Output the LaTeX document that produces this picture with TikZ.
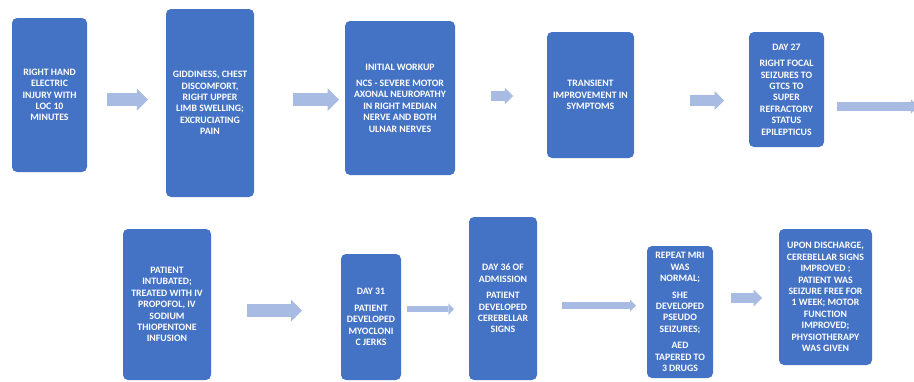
\documentclass[tikz,border=0pt]{standalone}
\usepackage{fontspec}
\setmainfont{Carlito}
\usepackage{tikz}
\usetikzlibrary{arrows.meta,positioning}
\definecolor{boxblue}{RGB}{68,114,196}
\definecolor{flowblue}{RGB}{168,187,226}

\begin{document}
\begin{tikzpicture}[x=1pt,y=-1pt,every node/.style={outer sep=0pt,inner sep=2pt,text=white}]
\tikzstyle{event}=[fill=boxblue,rounded corners=5pt,align=center,font=\bfseries\fontsize{9.8}{11.4}\selectfont]
\tikzstyle{flow}=[draw=flowblue,-{Triangle[length=0pt .85,width=0pt 1.7,line width=0pt]}]

\useasboundingbox (0,0) rectangle (914,381);

% first row
\node (S1) at (49.5,95) [event,minimum width=75pt,minimum height=154pt]
   {RIGHT HAND\\ELECTRIC\\INJURY WITH\\LOC 10\\MINUTES};
\node (S2) at (210,103) [event,minimum width=88pt,minimum height=188pt]
   {GIDDINESS, CHEST\\DISCOMFORT,\\RIGHT UPPER\\LIMB SWELLING;\\EXCRUCIATING\\PAIN};
\node (S3) at (400,98) [event,minimum width=110pt,minimum height=154pt]
   {INITIAL WORKUP\\[5pt]NCS - SEVERE MOTOR\\AXONAL NEUROPATHY\\IN RIGHT MEDIAN\\NERVE AND BOTH\\ULNAR NERVES};
\node (S4) at (590.5,95) [event,minimum width=87pt,minimum height=126pt]
   {TRANSIENT\\IMPROVEMENT IN\\SYMPTOMS};
\node (S5) at (786.5,89.5) [event,minimum width=75pt,minimum height=115pt]
   {DAY 27\\[5pt]RIGHT FOCAL\\SEIZURES TO\\GTCS TO\\SUPER\\REFRACTORY\\STATUS\\EPILEPTICUS};
\coordinate (E) at (918,106.5);

% second row
\node (S6) at (167,304.5) [event,minimum width=88pt,minimum height=151pt]
   {PATIENT\\INTUBATED;\\TREATED WITH IV\\PROPOFOL, IV\\SODIUM\\THIOPENTONE\\INFUSION};
\node (S7) at (371,317) [event,minimum width=60pt,minimum height=126pt]
   {DAY 31\\[5pt]PATIENT\\DEVELOPED\\MYOCLONI\\C JERKS};
\node (S8) at (503,298.5) [event,minimum width=68pt,minimum height=163pt]
   {DAY 36 OF\\ADMISSION\\[5pt]PATIENT\\DEVELOPED\\CEREBELLAR\\SIGNS};
\node (S9) at (680,312) [event,minimum width=66pt,minimum height=132pt]
   {REPEAT MRI\\WAS\\NORMAL;\\[5pt]SHE\\DEVELOPED\\PSEUDO\\SEIZURES;\\[5pt]AED\\TAPERED TO\\3 DRUGS};
\node (S10) at (825.5,297) [event,minimum width=93pt,minimum height=136pt]
   {UPON DISCHARGE,\\CEREBELLAR SIGNS\\IMPROVED ;\\PATIENT WAS\\SEIZURE FREE FOR\\1 WEEK; MOTOR\\FUNCTION\\IMPROVED;\\PHYSIOTHERAPY\\WAS GIVEN};

% arrows
\draw [flow,line width=13pt,shorten <=20pt,shorten >=18pt]
   ([yshift=-4.5pt]S1.east) -- ([yshift=-4.5pt]S1.east -| S2.west);
\draw [flow,line width=13.5pt,shorten <=39pt,shorten >=6pt]
   ([yshift=3.5pt]S2.east) -- ([yshift=3.5pt]S2.east -| S3.west);
\draw [flow,line width=9.5pt,shorten <=36pt,shorten >=34pt]
   ([yshift=2pt]S3.east) -- ([yshift=2pt]S3.east -| S4.west);
\draw [flow,line width=11pt,shorten <=56pt,shorten >=25pt]
   ([yshift=-5.5pt]S4.east) -- ([yshift=-5.5pt]S4.east -| S5.west);
\draw [flow,line width=8.5pt,shorten <=13pt]
   ([yshift=-17pt]S5.east) -- (E);

\draw [flow,line width=13pt,shorten <=36pt,shorten >=39pt]
   ([yshift=-6pt]S6.east) -- ([yshift=-6pt]S6.east -| S7.west);
\draw [flow,line width=6.5pt,shorten <=6pt,shorten >=15pt]
   ([yshift=8pt]S7.east) -- ([yshift=8pt]S7.east -| S8.west);
\draw [flow,line width=7pt,shorten <=25pt,shorten >=11pt]
   ([yshift=-7pt]S8.east) -- ([yshift=-7pt]S8.east -| S9.west);
\draw [flow,line width=10pt,shorten <=18pt,shorten >=17pt]
   ([yshift=14pt]S9.east) -- ([yshift=14pt]S9.east -| S10.west);

\end{tikzpicture}
\end{document}
